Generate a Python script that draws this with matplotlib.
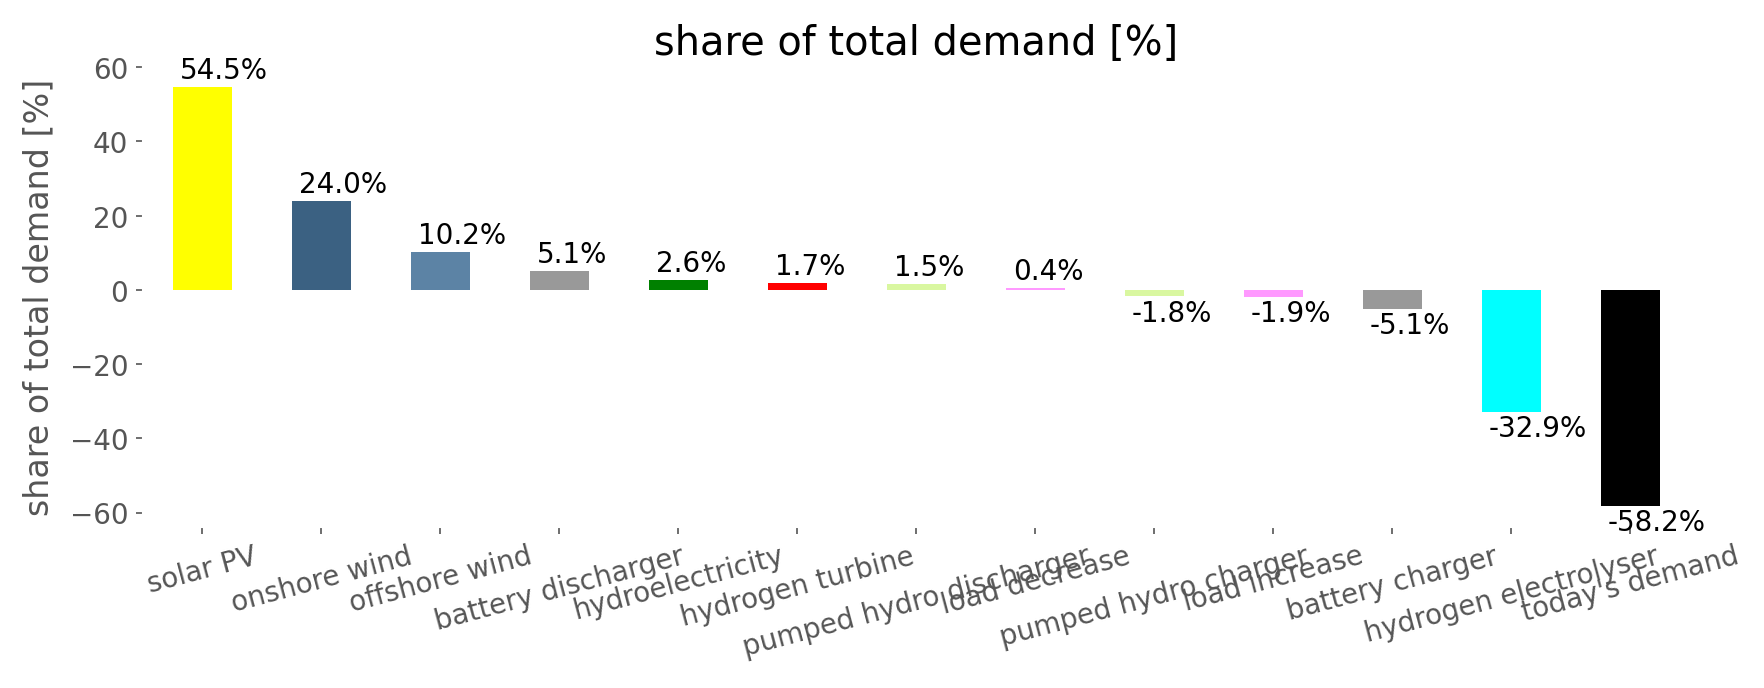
import matplotlib
matplotlib.use('Agg')
import matplotlib.pyplot as plt

plt.style.use('ggplot')
plt.rcParams['font.size'] = 13.3

# technologies and their share of total demand [%]
categories = ['solar PV', 'onshore wind', 'offshore wind', 'battery discharger',
              'hydroelectricity', 'hydrogen turbine', 'pumped hydro discharger',
              'load decrease', 'pumped hydro charger', 'load increase',
              'battery charger', 'hydrogen electrolyser', "today's demand"]
shares = [54.5, 24.0, 10.2, 5.1, 2.6, 1.7, 1.5, 0.4, -1.8, -1.9, -5.1, -32.9, -58.2]
colors = ['#ffff00', '#3b6182', '#5c83a5', '#999999', '#008000', '#ff0000',
          '#d9f7a0', '#ff99ff', '#d9f7a0', '#ff99ff', '#999999', '#00ffff', '#000000']

fig = plt.figure(figsize=(11.76, 4.593), dpi=150)
ax = fig.add_axes([0.081, 0.234, 0.877, 0.668])
ax.set_facecolor('white')
fig.patch.set_facecolor('white')
ax.grid(False)

x = range(len(categories))
bars = ax.bar(x, shares, width=0.5, color=colors)
ax.set_xlim(-0.5, len(categories) - 0.5)
ax.margins(y=0.05)

# value labels just off the bar end, starting at the bar's left edge
for bar, val in zip(bars, shares):
    pos = val >= 0
    ax.annotate(f'{val:.1f}%', (bar.get_x(), val),
                xytext=(3.5, 1.5 if pos else -1), textcoords='offset points',
                ha='left', va='bottom' if pos else 'top',
                fontsize=13.3, color='black')

ax.set_xticks(list(x))
ax.set_xticklabels(categories, rotation=15)
ax.set_ylabel('share of total demand [%]', labelpad=7)
ax.set_title('share of total demand [%]', color='black')

fig.savefig('out.png', dpi=150, facecolor='white')
